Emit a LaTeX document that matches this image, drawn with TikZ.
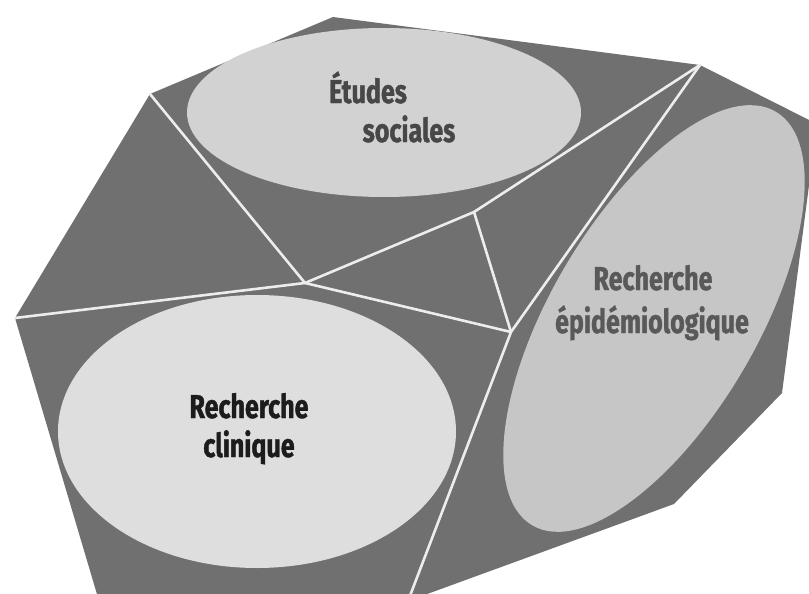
\documentclass[tikz,border=0pt]{standalone}
\usepackage{fontspec}
\newfontfamily\lab[FakeStretch=0.76, FakeBold=1.2]{Fira Sans}
\definecolor{facegray}{HTML}{707070}
\definecolor{ellA}{HTML}{D2D2D2}
\definecolor{ellB}{HTML}{DEDEDE}
\definecolor{ellC}{HTML}{C6C6C6}
\definecolor{txtA}{HTML}{474747}
\definecolor{txtB}{HTML}{1C1C1C}
\definecolor{txtC}{HTML}{595959}
\definecolor{edgewhite}{HTML}{EDEDED}
\tikzset{
  wline/.style={draw=edgewhite, line width=2.6pt, line cap=round, line join=round},
  lbl/.style={inner sep=0pt, anchor=base, font=\lab\bfseries\fontsize{33}{40}\selectfont}
}
\begin{document}
\begin{tikzpicture}[x=1pt,y=-1pt]
\useasboundingbox (0,0) rectangle (809,594);
\clip (0,0) rectangle (809,594);
% outer vertices
\coordinate (V1) at (150,94);
\coordinate (V2) at (333,17);
\coordinate (V3) at (700,65);
\coordinate (V4) at (817,124);
\coordinate (V5) at (782,393);
\coordinate (V6) at (674,504);
\coordinate (V7) at (408,601);
\coordinate (V8) at (99,601);
\coordinate (V9) at (15,318);
% inner vertices
\coordinate (C) at (305,283);
\coordinate (P) at (474,212);
\coordinate (Q) at (511,332);
% body
\fill[facegray] (V1) -- (V2) -- (V3) -- (V4) -- (V5) -- (V6) -- (V7) -- (V8) -- (V9) -- cycle;
% ellipses
\fill[ellA] (384,112.5) ellipse [x radius=197pt, y radius=84.5pt];
\fill[ellB] (257,431.5) ellipse [x radius=199pt, y radius=136.5pt];
\fill[ellC, rotate around={59.5:(654,318.5)}] (654,318.5) ellipse [x radius=240pt, y radius=103pt];
% white edges
\draw[wline] (V1) -- (C);
\draw[wline] (V9) -- (C);
\draw[wline] (C) -- (P) -- (V3);
\draw[wline] (P) -- (Q);
\draw[wline] (C) -- (Q);
\draw[wline] (V3) -- (Q) -- (V7);
% labels
\node[lbl, text=txtA] (et1) at (368,103) {Études};
\node[lbl, text=txtA] (et2) at (409,142) {sociales};
\node[lbl, text=txtB] (cl1) at (249,418) {Recherche};
\node[lbl, text=txtB] (cl2) at (249,457) {clinique};
\node[lbl, text=txtC] (ep1) at (653,290) {Recherche};
\node[lbl, text=txtC] (ep2) at (652,333) {épidémiologique};
\end{tikzpicture}
\end{document}
